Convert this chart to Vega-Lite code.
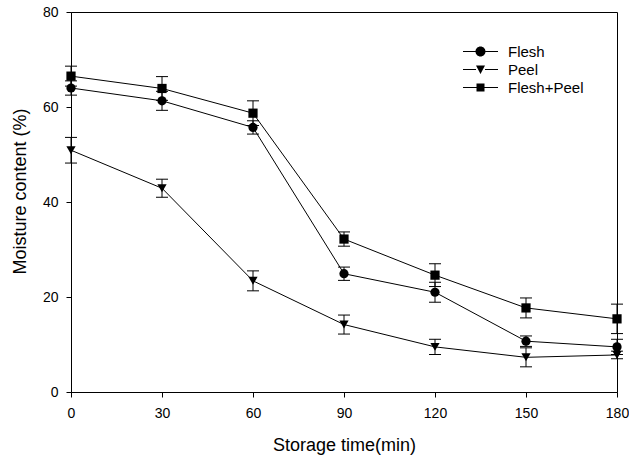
{
  "$schema": "https://vega.github.io/schema/vega-lite/v6.json",
  "width": 546,
  "height": 380,
  "autosize": {"type": "none"},
  "padding": {"left": 71, "top": 12, "right": 12, "bottom": 65},
  "background": "white",
  "config": {
    "font": "Arial",
    "view": {"stroke": "black", "strokeWidth": 1},
    "axis": {
      "grid": false,
      "domainColor": "black",
      "tickColor": "black",
      "labelColor": "black",
      "titleColor": "black",
      "labelFont": "Arial",
      "titleFont": "Arial",
      "labelFontSize": 14,
      "titleFontSize": 18,
      "titleFontWeight": "normal",
      "tickSize": 5,
      "domainWidth": 1,
      "tickWidth": 1
    }
  },
  "data": {
    "values": [
      {"series": "Flesh", "time": 0, "mean": 64.0, "sd": 1.5},
      {"series": "Flesh", "time": 30, "mean": 61.3, "sd": 2.0},
      {"series": "Flesh", "time": 60, "mean": 55.7, "sd": 1.4},
      {"series": "Flesh", "time": 90, "mean": 24.9, "sd": 1.4},
      {"series": "Flesh", "time": 120, "mean": 21.0, "sd": 2.1},
      {"series": "Flesh", "time": 150, "mean": 10.7, "sd": 1.1},
      {"series": "Flesh", "time": 180, "mean": 9.5, "sd": 1.6},
      {"series": "Peel", "time": 0, "mean": 50.9, "sd": 2.7},
      {"series": "Peel", "time": 30, "mean": 42.9, "sd": 1.9},
      {"series": "Peel", "time": 60, "mean": 23.4, "sd": 2.1},
      {"series": "Peel", "time": 90, "mean": 14.2, "sd": 2.0},
      {"series": "Peel", "time": 120, "mean": 9.5, "sd": 1.6},
      {"series": "Peel", "time": 150, "mean": 7.3, "sd": 2.0},
      {"series": "Peel", "time": 180, "mean": 7.8, "sd": 0.8},
      {"series": "Flesh+Peel", "time": 0, "mean": 66.5, "sd": 2.1},
      {"series": "Flesh+Peel", "time": 30, "mean": 63.9, "sd": 2.5},
      {"series": "Flesh+Peel", "time": 60, "mean": 58.7, "sd": 2.6},
      {"series": "Flesh+Peel", "time": 90, "mean": 32.2, "sd": 1.5},
      {"series": "Flesh+Peel", "time": 120, "mean": 24.6, "sd": 2.4},
      {"series": "Flesh+Peel", "time": 150, "mean": 17.7, "sd": 2.1},
      {"series": "Flesh+Peel", "time": 180, "mean": 15.4, "sd": 3.1}
    ]
  },
  "encoding": {
    "x": {
      "field": "time",
      "type": "quantitative",
      "scale": {"domain": [0, 180], "nice": false, "zero": false},
      "axis": {
        "title": "Storage time(min)",
        "values": [0, 30, 60, 90, 120, 150, 180],
        "labelFlush": false,
        "labelPadding": 9,
        "titlePadding": 16
      }
    },
    "y": {
      "field": "mean",
      "type": "quantitative",
      "scale": {"domain": [0, 80], "nice": false},
      "axis": {
        "title": "Moisture content (%)",
        "values": [0, 20, 40, 60, 80],
        "labelFlush": false,
        "labelPadding": 8,
        "titlePadding": 13,
        "titleY": 179
      }
    }
  },
  "layer": [
    {
      "mark": {"type": "line", "color": "black", "strokeWidth": 1},
      "encoding": {"detail": {"field": "series", "type": "nominal"}}
    },
    {
      "mark": {"type": "errorbar", "color": "black", "thickness": 1, "ticks": {"size": 12, "thickness": 1, "color": "black", "opacity": 1}, "rule": {"opacity": 1}},
      "encoding": {"yError": {"field": "sd"}}
    },
    {
      "mark": {"type": "point", "filled": true, "color": "black", "opacity": 1, "size": 85},
      "encoding": {
        "shape": {
          "field": "series",
          "type": "nominal",
          "scale": {"domain": ["Flesh", "Peel", "Flesh+Peel"], "range": ["circle", "triangle-down", "square"]},
          "legend": null
        }
      }
    },
    {
      "transform": [{"filter": "false"}],
      "mark": {"type": "point", "filled": true, "color": "black", "opacity": 1, "size": 100},
      "encoding": {
        "shape": {
          "field": "series",
          "type": "nominal",
          "scale": {
            "domain": ["Flesh", "Peel", "Flesh+Peel"],
            "range": [
              "M-3.5,-0.1H-1V0.1H-3.5ZM1,-0.1H3.5V0.1H1ZM-1,0A1,1 0 1,0 1,0A1,1 0 1,0 -1,0Z",
              "M-3.5,-0.1H-0.9V0.1H-3.5ZM0.9,-0.1H3.5V0.1H0.9ZM-0.9,-0.8H0.9L0,0.9Z",
              "M-3.5,-0.1H-0.8V0.1H-3.5ZM0.8,-0.1H3.5V0.1H0.8ZM-0.8,-0.8H0.8V0.8H-0.8Z"
            ]
          },
          "legend": {
            "orient": "none",
            "legendX": 402,
            "legendY": 32,
            "title": null,
            "padding": 0,
            "labelFont": "Arial",
            "labelFontSize": 15,
            "labelColor": "black",
            "labelOffset": 20,
            "symbolSize": 100,
            "rowPadding": 2,
            "symbolOpacity": 1,
            "symbolFillColor": "black",
            "symbolStrokeColor": "black",
            "symbolStrokeWidth": 0
          }
        }
      }
    }
  ],
  "resolve": {"scale": {"shape": "independent"}}
}
